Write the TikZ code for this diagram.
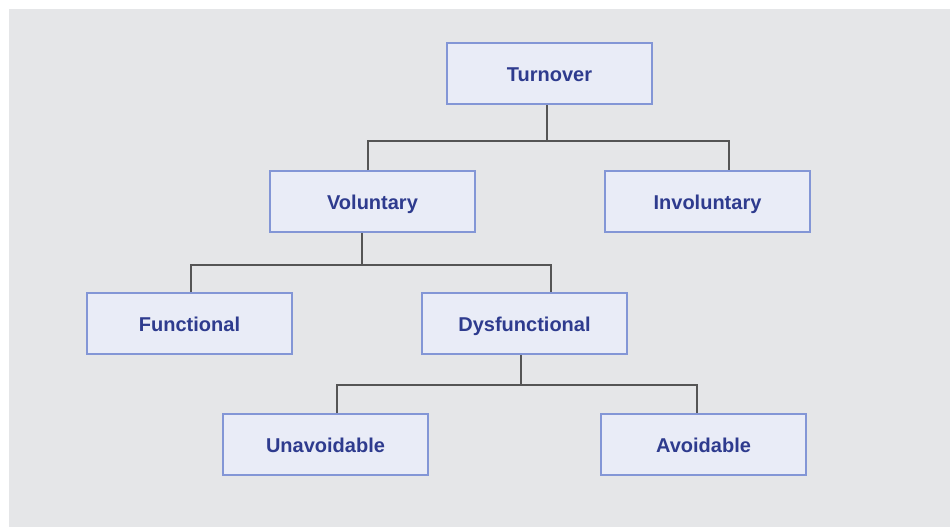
\documentclass[tikz,border=0pt]{standalone}
\usepackage{fontspec}
\setmainfont{Liberation Sans}
\definecolor{bg}{HTML}{E5E6E8}
\definecolor{boxfill}{HTML}{E9ECF7}
\definecolor{boxline}{HTML}{8396D6}
\definecolor{txt}{HTML}{2E3B8E}
\definecolor{conn}{HTML}{555555}
\begin{document}
\begin{tikzpicture}[x=1pt,y=-1pt,
  box/.style={draw=boxline,line width=2pt,fill=boxfill,minimum width=205pt,minimum height=61pt,inner sep=0pt,text height=17pt,text depth=1pt,font=\fontsize{20}{22}\selectfont\bfseries,text=txt},
  conn/.style={draw=conn,line width=2pt}]
\useasboundingbox (0,0) rectangle (950,527);
\fill[white] (0,0) rectangle (950,527);
\fill[bg] (9,9) rectangle (950,527);
\node[box] (turn) at (549.5,73.5) {Turnover};
\node[box] (vol) at (372.5,201.5) {Voluntary};
\node[box] (inv) at (707.5,201.5) {Involuntary};
\node[box] (fun) at (189.5,323.5) {Functional};
\node[box] (dys) at (524.5,323.5) {Dysfunctional};
\node[box] (una) at (325.5,444.5) {Unavoidable};
\node[box] (avo) at (703.5,444.5) {Avoidable};
\coordinate (j1) at (547,141);
\coordinate (j2) at (362,265);
\coordinate (j3) at (521,385);
\draw[conn] (turn.south -| j1) -- (j1);
\draw[conn] (vol.north -| 368,0) |- (j1) -| (inv.north -| 729,0);
\draw[conn] (vol.south -| j2) -- (j2);
\draw[conn] (fun.north -| 191,0) |- (j2) -| (dys.north -| 551,0);
\draw[conn] (dys.south -| j3) -- (j3);
\draw[conn] (una.north -| 337,0) |- (j3) -| (avo.north -| 697,0);
\end{tikzpicture}
\end{document}
